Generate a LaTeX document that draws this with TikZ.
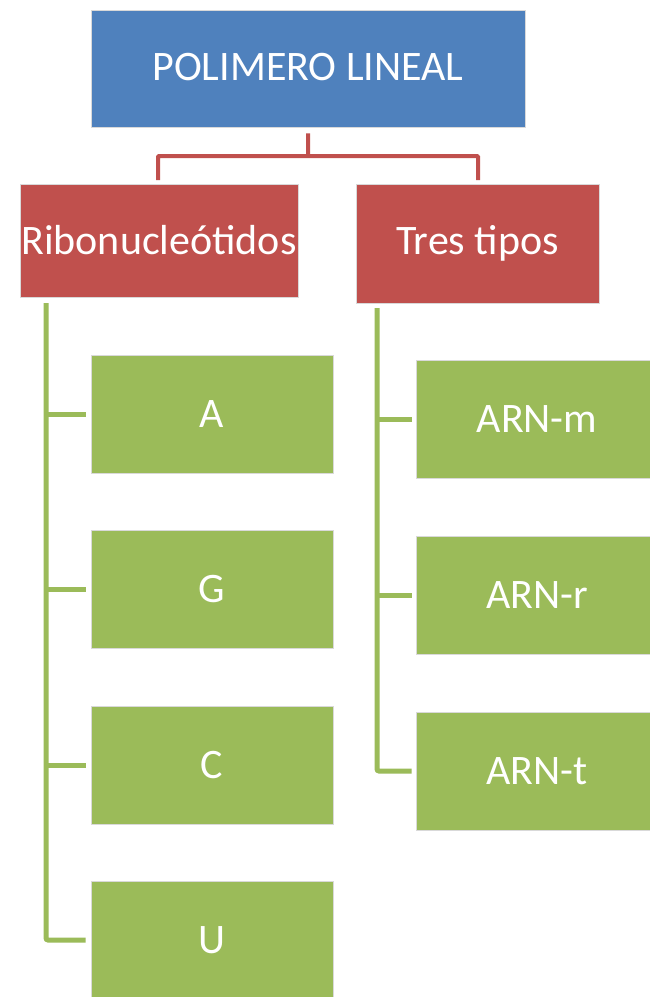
\documentclass[tikz,border=0pt]{standalone}
\usepackage{fontspec}
\setmainfont{Carlito}
\definecolor{cblue}{HTML}{4F81BD}
\definecolor{cred}{HTML}{C0504D}
\definecolor{cgreen}{HTML}{9BBB59}
\begin{document}
\begin{tikzpicture}[x=1pt,y=-1pt,
  boxbase/.style={draw=white!85!black,line width=0.6pt,inner sep=0pt,text=white,font=\fontsize{42}{44}\selectfont},
  topbox/.style={boxbase,fill=cblue},
  midbox/.style={boxbase,fill=cred},
  leafbox/.style={boxbase,fill=cgreen},
  redline/.style={draw=cred,line width=4pt,rounded corners=1pt},
  greenline/.style={draw=cgreen,line width=5pt,rounded corners=2pt}]
\path[use as bounding box,clip] (0,0) rectangle (650,997);
\fill[white] (0,0) rectangle (650,997);
% top
\node[topbox,minimum width=434pt,minimum height=117pt] (top) at (308,68.5) {\raisebox{3pt}{POLIMERO LINEAL}};
% mid
\node[midbox,minimum width=278pt,minimum height=113pt] (ribo) at (159,240.5) {\raisebox{2pt}{Ribonucleótidos}};
\node[midbox,minimum width=243pt,minimum height=119pt] (tres) at (477.5,243.5) {\raisebox{2pt}{Tres tipos}};
% leaves left
\node[leafbox,minimum width=242pt,minimum height=118pt] (A) at (212,414) {A};
\node[leafbox,minimum width=242pt,minimum height=118pt] (G) at (212,589.5) {G};
\node[leafbox,minimum width=242pt,minimum height=118pt] (C) at (212,765) {C};
\node[leafbox,minimum width=242pt,minimum height=118pt] (U) at (212,940) {U};
% leaves right
\node[leafbox,minimum width=242pt,minimum height=118pt] (m) at (537,419.5) {ARN-m};
\node[leafbox,minimum width=242pt,minimum height=118pt] (r) at (537,595) {ARN-r};
\node[leafbox,minimum width=242pt,minimum height=118pt] (t) at (537,771) {ARN-t};
% coordinates
\coordinate (tb) at ([yshift=-6pt]top.south);
\coordinate (hub) at (tb |- 0,156);
\coordinate (lrib) at (158,180);
\coordinate (ltres) at (478,180);
\draw[redline] (tb) -- (hub) -- (158,156) -- (lrib);
\draw[redline] (hub) -- (478,156) -- (ltres);
% green trunks
\coordinate (ltop) at (46,303);
\coordinate (rtop) at (377,308);
\draw[greenline] (ltop) |- ([xshift=-5pt]U.west);
\draw[greenline] (46,414) -- ([xshift=-5pt]A.west);
\draw[greenline] (46,589.5) -- ([xshift=-5pt]G.west);
\draw[greenline] (46,765) -- ([xshift=-5pt]C.west);
\draw[greenline] (rtop) |- ([xshift=-4pt]t.west);
\draw[greenline] (377,419.5) -- ([xshift=-4pt]m.west);
\draw[greenline] (377,595) -- ([xshift=-4pt]r.west);
\end{tikzpicture}
\end{document}
